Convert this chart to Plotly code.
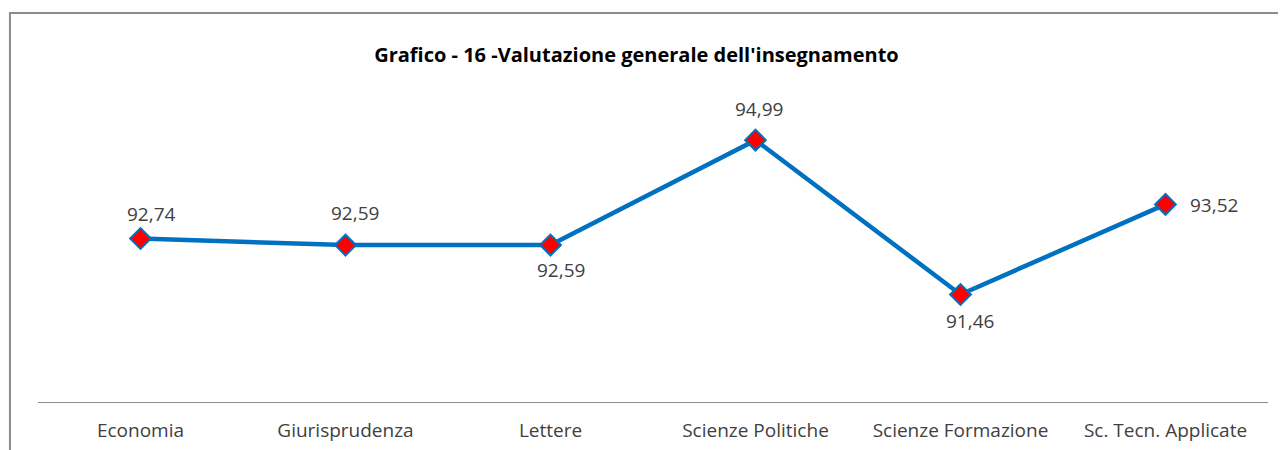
import plotly.graph_objects as go

categories = ["Economia", "Giurisprudenza", "Lettere", "Scienze Politiche",
              "Scienze Formazione", "Sc. Tecn. Applicate"]
values = [92.74, 92.59, 92.59, 94.99, 91.46, 93.52]
title_text = "Grafico - 16 -Valutazione generale dell'insegnamento"

# label placement (pixel offsets from each point)
label_dx = [11, 9, 10, 3, 9, 22]
label_dy = [25, 32, -25, 31, -27, -1]
label_anchor = ["center", "center", "center", "center", "center", "left"]

font_family = "'Open Sans', sans-serif"

fig = go.Figure()
fig.add_trace(go.Scatter(
    x=categories, y=values,
    mode="lines+markers",
    line=dict(color="#0070C0", width=4.5),
    marker=dict(symbol="diamond", size=16, color="#FF0000",
                line=dict(color="#0070C0", width=2)),
    hoverinfo="skip",
))

for cat, val, dx, dy, anc in zip(categories, values, label_dx, label_dy, label_anchor):
    fig.add_annotation(
        x=cat, y=val, xref="x", yref="y",
        text=f"{val:.2f}".replace(".", ","),
        showarrow=False, xanchor=anc, yanchor="middle",
        xshift=dx, yshift=dy,
        font=dict(size=19, color="#404040", family=font_family),
    )

fig.update_layout(
    width=1286, height=450,
    margin=dict(l=30, r=26, t=88, b=56),
    paper_bgcolor="white", plot_bgcolor="white",
    separators=",.",
    showlegend=False,
    title=dict(text="<b>" + title_text + "</b>", x=0.4887, xanchor="center",
               y=0.895, yanchor="middle",
               font=dict(size=20, color="#000000", family=font_family)),
    xaxis=dict(range=[-0.5, 5.5], showgrid=False, zeroline=False,
               showline=True, linecolor="#8C8C8C", linewidth=1,
               ticks="", ticklabelstandoff=11,
               tickfont=dict(size=19, color="#404040", family=font_family),
               fixedrange=True),
    yaxis=dict(range=[89, 96], visible=False, fixedrange=True),
    shapes=[dict(type="rect", xref="paper", yref="paper",
                 x0=-0.0228, x1=1.2, y0=-0.5, y1=1.271,
                 line=dict(color="#8C8C8C", width=2), fillcolor="rgba(0,0,0,0)",
                 layer="below")],
)

fig.write_html("out.html")
